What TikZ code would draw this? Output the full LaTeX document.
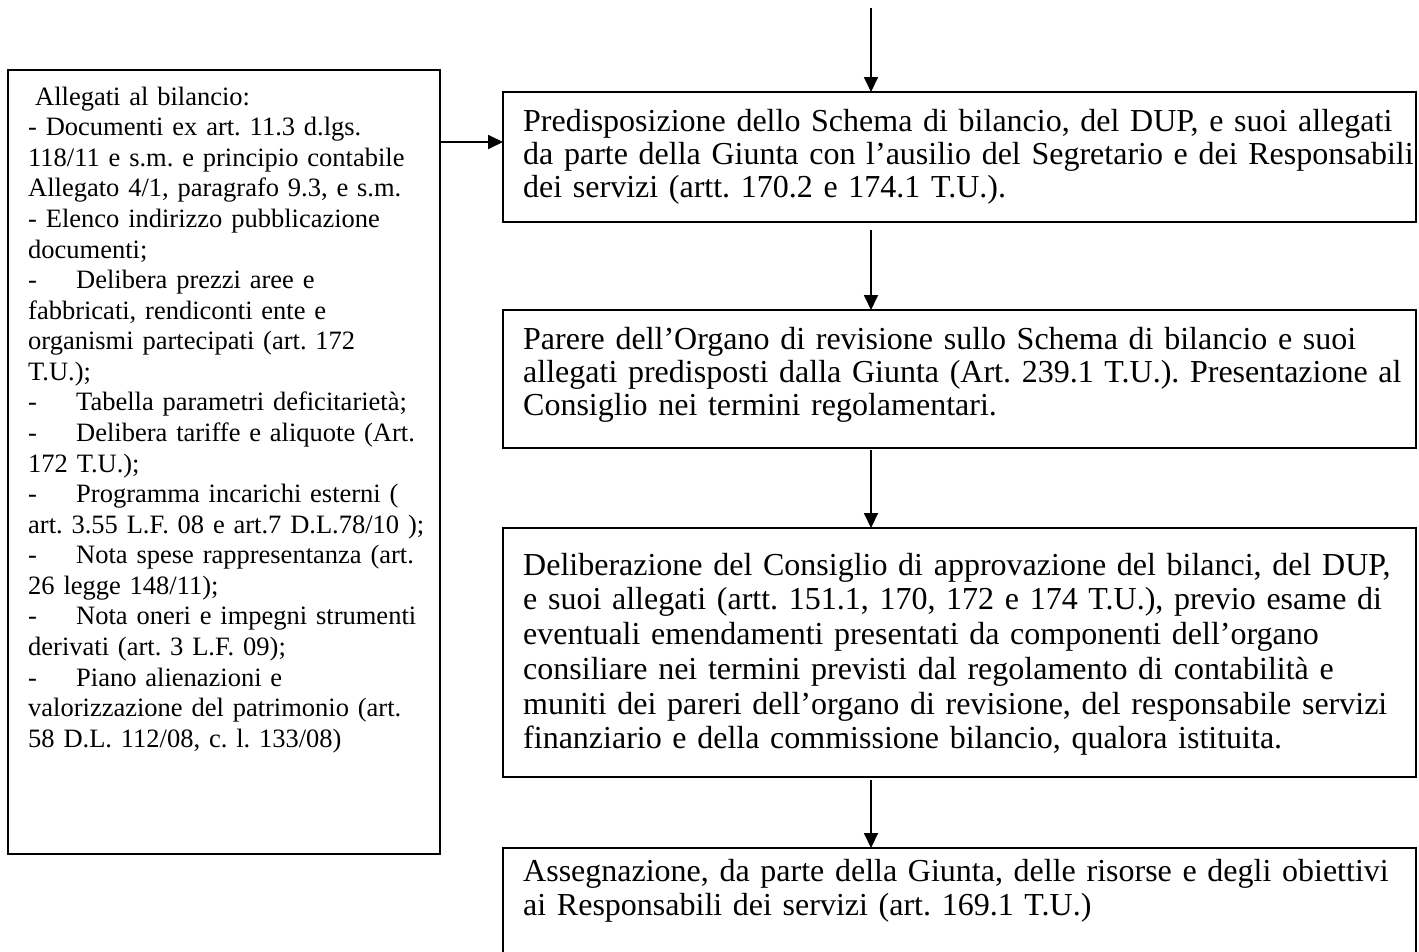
\documentclass[tikz,border=0pt]{standalone}
\usepackage{fontspec}
\setmainfont{Liberation Serif}
\usetikzlibrary{arrows.meta}
\frenchspacing
\setlength{\parindent}{0pt}
\newcommand{\jline}[1]{\makebox[886pt][s]{#1}}
\newcommand{\tabdash}{\makebox[48pt][l]{-}}
\newcommand{\topstrut}{\vrule height 28pt depth 0pt width 0pt}
\begin{document}
\begin{tikzpicture}[x=1pt,y=-1pt,
  box/.style={draw, line width=1.8pt, rectangle, inner sep=0pt, outer sep=0pt, anchor=north west},
  rtext/.style={anchor=north west, inner sep=0pt, text width=886pt, align=left, font=\fontsize{32}{33}\selectfont},
  rtextb/.style={rtext, font=\fontsize{32}{34.7}\selectfont},
  ltext/.style={anchor=north west, inner sep=0pt, text width=405pt, align=left, font=\fontsize{26.5}{30.57}\selectfont},
  arr/.style={line width=1.8pt, -{Triangle[length=15pt,width=14pt]}}
]
\useasboundingbox (0,0) rectangle (1419,951);
\fill[white] (0,0) rectangle (1419,951);
\clip (0,0) rectangle (1419,951);

% boxes
\node[box, minimum width=432pt, minimum height=784pt] (lb) at (8,70) {};
\node[box, minimum width=913pt, minimum height=130pt] (b1) at (503,92) {};
\node[box, minimum width=913pt, minimum height=138pt] (b2) at (503,310) {};
\node[box, minimum width=913pt, minimum height=249pt] (b3) at (503,528) {};
\node[box, minimum width=913pt, minimum height=150pt] (b4) at (503,848) {};

% texts
\node[ltext] (lt) at (28,77) {\topstrut\hspace*{7pt}Allegati al bilancio:\\
- Documenti ex art. 11.3 d.lgs.\\
118/11 e s.m. e principio contabile\\
Allegato 4/1, paragrafo 9.3, e s.m.\\
- Elenco indirizzo pubblicazione\\
documenti;\\
\tabdash Delibera prezzi aree e\\
fabbricati, rendiconti ente e\\
organismi partecipati (art. 172\\
T.U.);\\
\tabdash Tabella parametri deficitarietà;\\
\tabdash Delibera tariffe e aliquote (Art.\\
172 T.U.);\\
\tabdash Programma incarichi esterni (\\
art. 3.55 L.F. 08 e art.7 D.L.78/10 );\\
\tabdash Nota spese rappresentanza (art.\\
26 legge 148/11);\\
\tabdash Nota oneri e impegni strumenti\\
derivati (art. 3 L.F. 09);\\
\tabdash Piano alienazioni e\\
valorizzazione del patrimonio (art.\\
58 D.L. 112/08, c. l. 133/08)};

\node[rtext] (t1) at (523,103) {\topstrut\jline{Predisposizione dello Schema di bilancio, del DUP, e suoi allegati}\\
\jline{da parte della Giunta con l’ausilio del Segretario e dei Responsabili}\\
dei servizi (artt. 170.2 e 174.1 T.U.).};

\node[rtext] (t2) at (523,321) {\topstrut\jline{Parere dell’Organo di revisione sullo Schema di bilancio e suoi}\\
\jline{allegati predisposti dalla Giunta (Art. 239.1 T.U.). Presentazione al}\\
Consiglio nei termini regolamentari.};

\node[rtextb] (t3) at (523,547) {\topstrut Deliberazione del Consiglio di approvazione del bilanci, del DUP,\\
e suoi allegati (artt. 151.1, 170, 172 e 174 T.U.), previo esame di\\
eventuali emendamenti presentati da componenti dell’organo\\
consiliare nei termini previsti dal regolamento di contabilità e\\
muniti dei pareri dell’organo di revisione, del responsabile servizi\\
finanziario e della commissione bilancio, qualora istituita.};

\node[rtextb] (t4) at (523,853) {\topstrut Assegnazione, da parte della Giunta, delle risorse e degli obiettivi\\
ai Responsabili dei servizi (art. 169.1 T.U.)};

% connectors
\coordinate (top) at (871,8);
\coordinate (ya) at (0,142);
\draw[arr] (top) -- (top |- b1.north);
\draw[arr, shorten <=8pt] (b1.south -| top) -- (b2.north -| top);
\draw[arr, shorten <=2pt] (b2.south -| top) -- (b3.north -| top);
\draw[arr, shorten <=3pt] (b3.south -| top) -- (b4.north -| top);
\draw[arr] (lb.east |- ya) -- (b1.west |- ya);
\end{tikzpicture}
\end{document}
